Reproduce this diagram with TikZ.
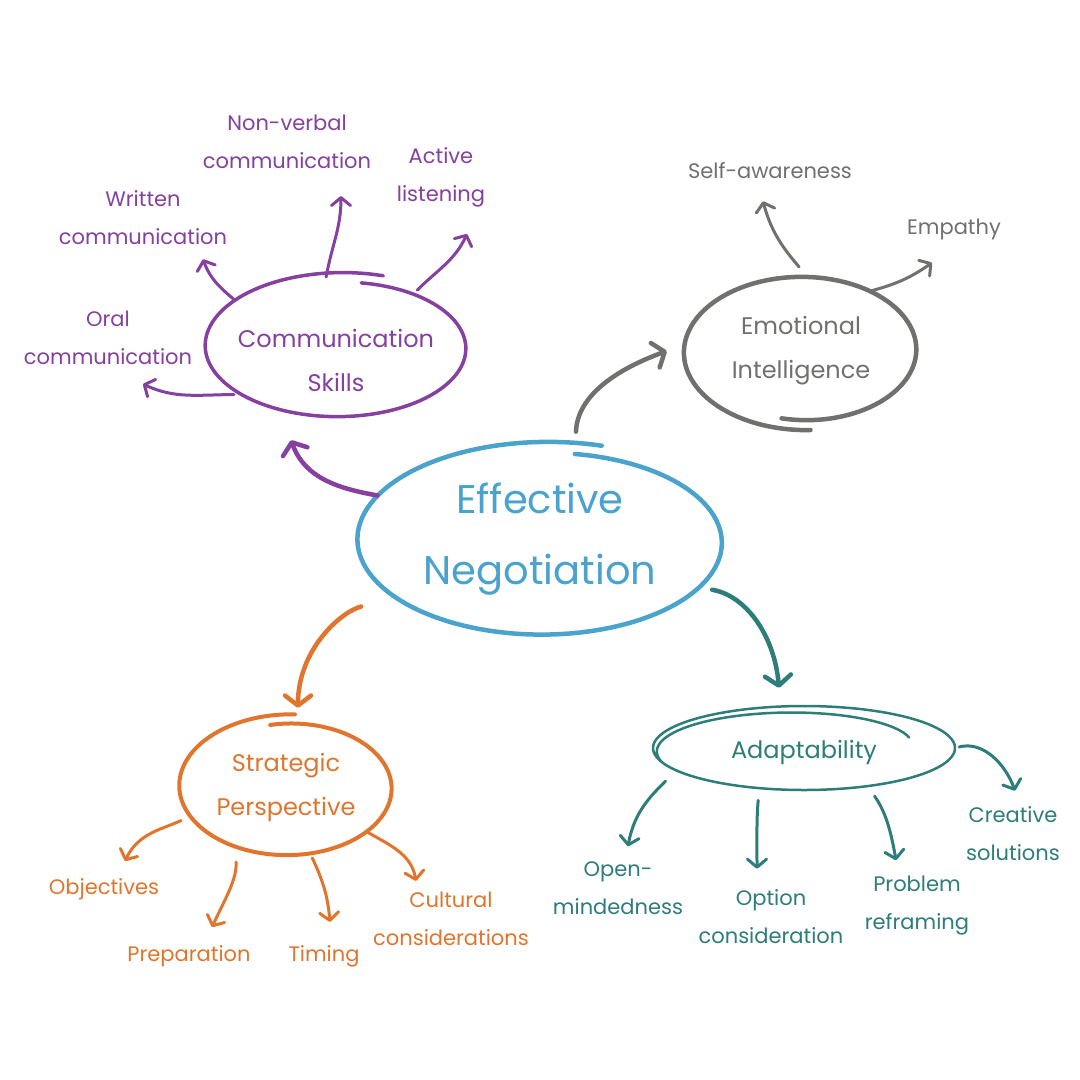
\documentclass[tikz,border=0pt]{standalone}
\usepackage{fontspec}
\setmainfont{Poppins}
\usetikzlibrary{shapes.geometric,arrows.meta}

\definecolor{negcol}{RGB}{74,163,204}
\definecolor{commcol}{RGB}{134,64,160}
\definecolor{emocol}{RGB}{112,112,108}
\definecolor{stratcol}{RGB}{225,117,45}
\definecolor{adaptcol}{RGB}{45,125,122}

\begin{document}
\begin{tikzpicture}[x=1pt,y=-1pt]
    \useasboundingbox (0,0) rectangle (1080,1080);
    \fill[white] (0,0) rectangle (1080,1080);

    \tikzstyle{bubble}=[ellipse,inner sep=0pt,align=center,font=\fontsize{24}{44}\selectfont]
    \tikzstyle{leaf}=[inner sep=0pt,align=center,font=\fontsize{21}{38}\selectfont]
    \tikzstyle{loop}=[line cap=round,line join=round]
    \tikzstyle{branch}=[line width=4.5pt,line cap=round,-{Straight Barb[length=10pt,width=26pt,round]}]
    \tikzstyle{twig}=[line width=3pt,line cap=round,-{Straight Barb[length=8pt,width=19pt,round]}]

    %%%%%%%%%%%%%%%%%%%%%%%%%%%%%%%%%%%%%% Centre
    \node[bubble,text=negcol,minimum width=366pt,minimum height=188pt,font=\fontsize{40}{71}\selectfont] (neg) at (540,539) {Effective\\Negotiation};
    \draw[loop,negcol,line width=4.5pt,shift={(neg.center)},xshift=5pt,yshift=-2pt] plot[domain=-287:80,samples=150,smooth] ({183*(0.94+0.12*(80-\x)/367)*cos(\x)},{-94*(0.94+0.12*(80-\x)/367)*sin(\x)});

    %%%%%%%%%%%%%%%%%%%%%%%%%%%%%%%%%%%%%% Bulles
    \node[bubble,text=commcol,minimum width=262pt,minimum height=140pt] (comm) at (336,347) {\rule{0pt}{46pt}Communication\\Skills};
    \draw[loop,commcol,line width=3.5pt,shift={(comm.center)},xshift=4pt] plot[domain=-288:80,samples=150,smooth] ({131*(0.93+0.14*(80-\x)/368)*cos(\x)},{-70*(0.93+0.14*(80-\x)/368)*sin(\x)});

    \node[bubble,text=emocol,minimum width=232pt,minimum height=148pt] (emo) at (801,351) {Emotional\\Intelligence};
    \draw[loop,emocol,line width=4.5pt,shift={(emo.center)},xshift=3pt] plot[domain=258:633,samples=150,smooth] ({116*(0.93+0.14*(\x-258)/375)*cos(\x)},{-74*(0.93+0.14*(\x-258)/375)*sin(\x)});

    \node[bubble,text=stratcol,minimum width=212pt,minimum height=136pt] (strat) at (286,787) {Strategic\\Perspective};
    \draw[loop,stratcol,line width=4pt,shift={(strat.center)},xshift=3pt] plot[domain=-273:101,samples=150,smooth] ({106*(0.93+0.14*(101-\x)/374)*cos(\x)},{-68*(0.93+0.14*(101-\x)/374)*sin(\x)});

    \node[bubble,text=adaptcol,minimum width=302pt,minimum height=84pt] (adapt) at (804,748) {\rule{0pt}{28pt}Adaptability};
    \draw[loop,adaptcol,line width=2.5pt,shift={(adapt.center)}] plot[domain=20:560,samples=200,smooth] ({151*min(1,0.74+0.26*(\x-20)/180)*cos(\x)},{-42*min(1,0.74+0.26*(\x-20)/180)*sin(\x)});

    %%%%%%%%%%%%%%%%%%%%%%%%%%%%%%%%%%%%%% Feuilles
    \node[leaf,text=commcol] (oral) at (108,338) {Oral\\communication};
    \node[leaf,text=commcol] (written) at (143,218) {Written\\communication};
    \node[leaf,text=commcol] (nonverbal) at (287,142) {Non-verbal\\communication};
    \node[leaf,text=commcol] (active) at (441,177) {Active\\listening};

    \node[leaf,text=emocol] (selfaw) at (770,171) {Self-awareness};
    \node[leaf,text=emocol] (empathy) at (954,229) {Empathy};

    \node[leaf,text=stratcol] (objectives) at (104,889) {Objectives};
    \node[leaf,text=stratcol] (preparation) at (189,956) {Preparation};
    \node[leaf,text=stratcol] (timing) at (324,956) {Timing};
    \node[leaf,text=stratcol] (cultural) at (451,919) {Cultural\\considerations};

    \node[leaf,text=adaptcol] (openmind) at (618,888) {Open-\\mindedness};
    \node[leaf,text=adaptcol] (option) at (771,917) {Option\\consideration};
    \node[leaf,text=adaptcol] (problem) at (917,906) {Problem\\reframing};
    \node[leaf,text=adaptcol] (creative) at (1013,834) {Creative\\solutions};

    %%%%%%%%%%%%%%%%%%%%%%%%%%%%%%%%%%%%%% Branches
    \draw[branch,commcol] (neg.165) to[out=170,in=-70] ([shift={(-45,23)}]comm.south);
    \draw[branch,emocol,shorten <=15pt] (neg.69) to[out=88,in=200] ([shift={(-18,0)}]emo.west);
    \draw[branch,stratcol,shorten <=36pt] (neg.202) to[out=195,in=90] ([shift={(12,-11)}]strat.north);
    \draw[branch,adaptcol,shorten <=15pt] (neg.-17) to[out=-10,in=95] ([shift={(-25,-18)}]adapt.north);

    \draw[twig,commcol] (comm.205) to[out=180,in=-25] ([shift={(35,19)}]oral.south);
    \draw[twig,commcol] (comm.155) to[out=140,in=-70] ([shift={(60,14)}]written.south);
    \draw[twig,commcol] (comm.98) to[out=80,in=-90] ([shift={(54,27)}]nonverbal.south);
    \draw[twig,commcol] (comm.35) to[out=45,in=-115] ([shift={(26,27)}]active.south);

    \draw[twig,emocol,shorten <=13pt] (emo.85) to[out=130,in=-75] ([shift={(-7,22)}]selfaw.south);
    \draw[twig,emocol] (emo.41) to[out=15,in=-145] ([shift={(-22,23)}]empathy.south);

    \draw[twig,stratcol,shorten <=10pt] (strat.197) to[out=205,in=65] ([shift={(21,-17)}]objectives.north);
    \draw[twig,stratcol,shorten <=15pt] (strat.230) to[out=-88,in=65] ([shift={(23,-18)}]preparation.north);
    \draw[twig,stratcol,shorten <=5pt] (strat.290) to[out=-65,in=95] ([shift={(6,-23)}]timing.north);
    \draw[twig,stratcol] (strat.331) to[out=-30,in=100] ([shift={(-35,-11)}]cultural.north);

    \draw[twig,adaptcol,shorten <=15pt] (adapt.190) to[out=225,in=80] ([shift={(10,-15)}]openmind.north);
    \draw[twig,adaptcol,shorten <=12pt] (adapt.222) to[out=-95,in=90] ([shift={(-14,-21)}]option.north);
    \draw[twig,adaptcol,shorten <=12pt] (adapt.329) to[out=-55,in=100] ([shift={(-21,-16)}]problem.north);
    \draw[twig,adaptcol,shorten <=4pt] (adapt.east) to[out=15,in=110] ([shift={(2,-16)}]creative.north);
\end{tikzpicture}
\end{document}
